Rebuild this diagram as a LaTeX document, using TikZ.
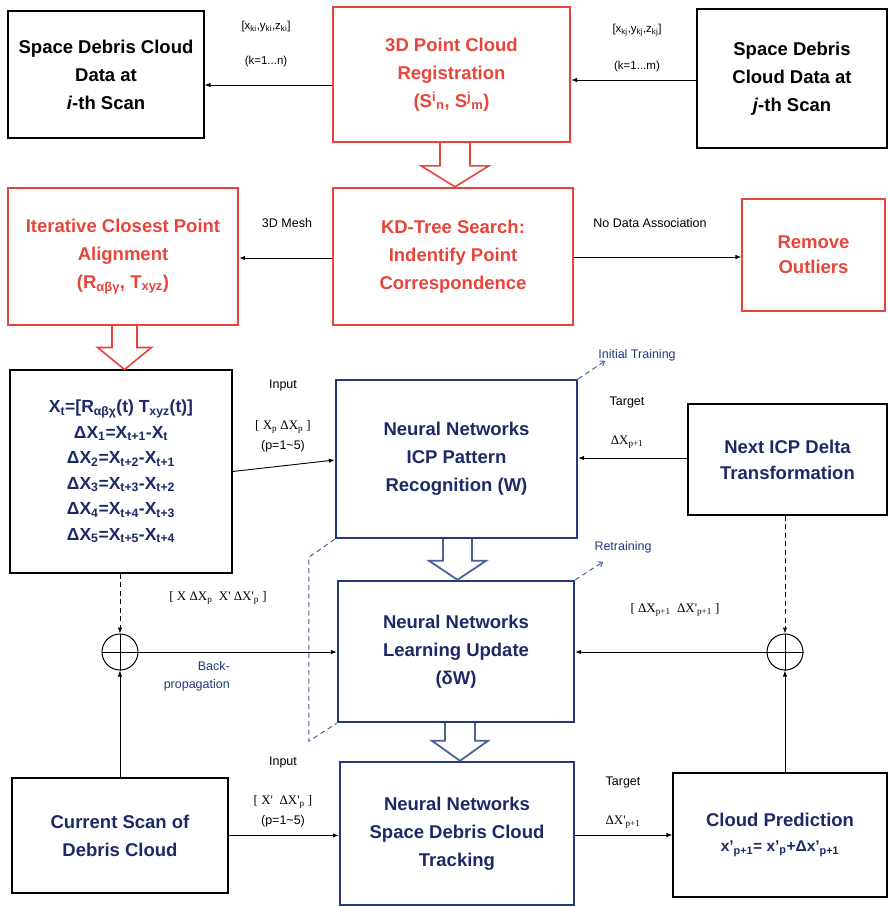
\documentclass[tikz,border=0pt]{standalone}
\usepackage{fontspec}
\setmainfont{Liberation Sans}
\newfontfamily\seriffont{Liberation Serif}
\usetikzlibrary{arrows.meta,calc}
\definecolor{dred}{HTML}{E9443A}
\definecolor{navytxt}{HTML}{1B2A66}
\definecolor{navyln}{HTML}{203A7C}
\definecolor{dashblue}{HTML}{4A64A0}
\newcommand\hollowarrow[6]{%
  \draw[#1] let \p1=(#2), \p2=(#3) in
    (\x1-#4,\y1) -- (\x1-#4,\y2+#6) -- (\x1-#5,\y2+#6) -- (\x1,\y2)
    -- (\x1+#5,\y2+#6) -- (\x1+#4,\y2+#6) -- (\x1+#4,\y1);}
\begin{document}
\begin{tikzpicture}[x=1pt,y=-1pt,
  boxtxt/.style={font=\fontsize{18.5}{28}\selectfont\bfseries, align=center, inner sep=0pt},
  blackbox/.style={boxtxt, draw=black, line width=1.1pt},
  redbox/.style={boxtxt, draw=dred, text=dred, line width=2.4pt},
  redthin/.style={boxtxt, draw=dred, text=dred, line width=1.3pt},
  navybox/.style={boxtxt, draw=navyln, text=navytxt, line width=2.4pt},
  navytext/.style={boxtxt, draw=black, text=navytxt, line width=1.1pt},
  lbl/.style={font=\fontsize{12.5}{14}\selectfont, inner sep=0pt},
  slbl/.style={font=\fontsize{11.5}{13}\selectfont, inner sep=0pt},
  mlbl/.style={font=\fontsize{13}{15}\selectfont\seriffont, inner sep=0pt},
  bluelbl/.style={lbl, text=navyln},
  arr/.style={line width=0.9pt, -{Latex[length=6pt,width=4.5pt]}},
  darr/.style={arr, dash pattern=on 5pt off 3.5pt},
  bluedash/.style={draw=dashblue, line width=1pt, dash pattern=on 5pt off 3.5pt},
  bluedarr/.style={bluedash, -{Straight Barb[length=4pt,width=6pt]}},
  hollowred/.style={draw=dred, line width=1.6pt, line join=miter},
  hollownavy/.style={draw=navyln!80, line width=1.8pt, line join=miter},
]
\useasboundingbox (0,0) rectangle (888,907);

% ---- boxes ----
\node[blackbox, minimum width=196pt, minimum height=127pt] (A) at (106,74.5)
  {Space Debris Cloud\\Data at\\\textit{i}-th Scan};
\node[redbox, minimum width=237pt, minimum height=135pt] (B) at (451.5,74.5)
  {3D Point Cloud\\Registration\\(S\textsuperscript{i}\textsubscript{n}, S\textsuperscript{j}\textsubscript{m})};
\node[blackbox, minimum width=190pt, minimum height=139pt] (C) at (792,78.5)
  {Space Debris\\Cloud Data at\\\textit{j}-th Scan};

\node[redbox, minimum width=230pt, minimum height=137pt] (D) at (123,256.5)
  {Iterative Closest Point\\Alignment\\(R\textsubscript{αβγ}, T\textsubscript{xyz})};
\node[redbox, minimum width=240pt, minimum height=137pt] (E) at (453,256.5)
  {KD-Tree Search:\\Indentify Point\\Correspondence};
\node[redthin, minimum width=143pt, minimum height=112pt, font=\fontsize{18.5}{25}\selectfont\bfseries] (F) at (813.5,255)
  {Remove\\Outliers};

\node[navytext, minimum width=222pt, minimum height=203pt, font=\fontsize{17.5}{25.5}\selectfont\bfseries] (G) at (121,471.5)
  {X\textsubscript{t}=[R\textsubscript{αβχ}(t) T\textsubscript{xyz}(t)]\\
   ΔX\textsubscript{1}=X\textsubscript{t+1}-X\textsubscript{t}\\
   ΔX\textsubscript{2}=X\textsubscript{t+2}-X\textsubscript{t+1}\\
   ΔX\textsubscript{3}=X\textsubscript{t+3}-X\textsubscript{t+2}\\
   ΔX\textsubscript{4}=X\textsubscript{t+4}-X\textsubscript{t+3}\\
   ΔX\textsubscript{5}=X\textsubscript{t+5}-X\textsubscript{t+4}};
\node[navybox, minimum width=241pt, minimum height=158pt] (H) at (456.5,459)
  {Neural Networks\\ICP Pattern\\Recognition (W)};
\node[navytext, minimum width=199pt, minimum height=111pt, font=\fontsize{18.5}{26}\selectfont\bfseries] (I) at (787.5,459.5)
  {Next ICP Delta\\Transformation};

\node[navybox, minimum width=236pt, minimum height=141pt] (J) at (456,651.5)
  {Neural Networks\\Learning Update\\(δW)};

\node[navytext, minimum width=216pt, minimum height=115pt] (M) at (120,835.5)
  {Current Scan of\\Debris Cloud};
\node[navybox, minimum width=234pt, minimum height=143pt] (K) at (457,833.5)
  {Neural Networks\\Space Debris Cloud\\Tracking};
\node[navytext, minimum width=214pt, minimum height=124pt] (L) at (780,835)
  {Cloud Prediction\\[-3pt]{\fontsize{15.5}{18}\selectfont x'\textsubscript{p+1}= x'\textsubscript{p}+Δx'\textsubscript{p+1}}};

% ---- summing junctions ----
\node[circle, draw, line width=1pt, minimum size=36pt, inner sep=0pt] (cl) at (120,652) {};
\node[circle, draw, line width=1pt, minimum size=36pt, inner sep=0pt] (cr) at (785,652) {};
\draw[line width=1pt] (cl.north) -- (cl.south) (cl.west) -- (cl.east);
\draw[line width=1pt] (cr.north) -- (cr.south) (cr.west) -- (cr.east);

% ---- connectors ----
\draw[arr] ([yshift=-10.5pt]B.west) -- ([yshift=-10.5pt]A.east);
\draw[arr] ([yshift=-1.5pt]C.west) -- ([yshift=-5.5pt]B.east);
\draw[arr] ([yshift=-1.5pt]E.west) -- ([yshift=-1.5pt]D.east);
\draw[arr] ([yshift=-0.5pt]E.east) -- ([yshift=-2pt]F.west);
\draw[arr] (G.east) -- ([yshift=-1pt]H.west);
\draw[arr] ([yshift=1.5pt]I.west) -- ([yshift=1pt]H.east);
\draw[darr] (G.south -| cl) -- (cl.north);
\draw[darr] (I.south -| cr) -- (cr.north);
\draw[arr] (cl.east) -- (J.west |- cl.east);
\draw[arr] (cr.west) -- (J.east |- cr.west);
\draw[arr] (M.north -| cl) -- (cl.south);
\draw[arr] (L.north -| cr) -- (cr.south);
\draw[arr] (M.east) -- (K.west |- M.east);
\draw[arr] (K.east |- L.west) -- (L.west);

% dashed blue
\draw[bluedarr] (H.north east) -- ++(27,-18);
\draw[bluedarr] (J.north east) -- ++(28,-18);
\draw[bluedash] (H.south west) -- ++(-26,18) -- ++(0,184) -- (J.south west);

% hollow arrows
\hollowarrow{hollowred}{[xshift=3.5pt]B.south}{[xshift=3.5pt]E.north}{15pt}{34pt}{21pt}
\hollowarrow{hollowred}{[xshift=1.5pt]D.south}{[xshift=1.5pt]G.north}{12.5pt}{27pt}{22pt}
\hollowarrow{hollownavy}{[xshift=1pt]H.south}{[xshift=1pt]J.north}{14.5pt}{28.5pt}{19pt}
\hollowarrow{hollownavy}{[xshift=4pt]J.south}{[xshift=4pt]K.north}{15pt}{28pt}{20pt}

% ---- labels ----
\node[slbl] (l1) at (266,27) {[x\textsubscript{ki},y\textsubscript{ki},z\textsubscript{ki}]};
\node[slbl] (l2) at (266,62) {(k=1...n)};
\node[slbl] (l3) at (637,30) {[x\textsubscript{kj},y\textsubscript{kj},z\textsubscript{kj}]};
\node[slbl] (l4) at (637,67) {(k=1...m)};
\node[lbl] (l5) at (287,223) {3D Mesh};
\node[lbl] (l6) at (650,223) {No Data Association};
\node[lbl] (l7) at (283,385) {Input};
\node[mlbl] (l8) at (283,427) {[ X\textsubscript{p} ΔX\textsubscript{p} ]};
\node[lbl] (l9) at (283,446) {(p=1\textasciitilde5)};
\node[bluelbl] (l10) at (637,355) {Initial Training};
\node[lbl] (l11) at (627,402) {Target};
\node[mlbl] (l12) at (627,442) {ΔX\textsubscript{p+1}};
\node[mlbl] (l13) at (218,598) {[ X ΔX\textsubscript{p}\ \ X' ΔX'\textsubscript{p} ]};
\node[bluelbl, align=right, anchor=east, font=\fontsize{12.5}{18}\selectfont] (l14) at (230,676) {Back-\\propagation};
\node[bluelbl] (l15) at (623,547) {Retraining};
\node[mlbl] (l16) at (675,610) {[ ΔX\textsubscript{p+1}\ \ ΔX'\textsubscript{p+1} ]};
\node[lbl] (l17) at (283,762) {Input};
\node[mlbl] (l18) at (283,802) {[ X'\ \ ΔX'\textsubscript{p} ]};
\node[lbl] (l19) at (283,821) {(p=1\textasciitilde5)};
\node[lbl] (l20) at (623,782) {Target};
\node[mlbl] (l21) at (623,822) {ΔX'\textsubscript{p+1}};
\end{tikzpicture}
\end{document}
